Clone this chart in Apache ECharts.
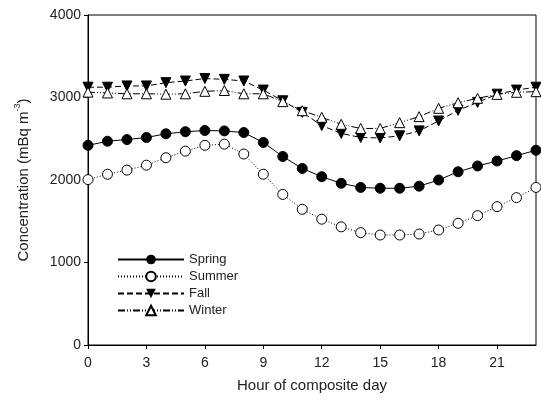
<!DOCTYPE html>
<html lang="en">
  <head>
    <meta charset="UTF-8" />
    <title>Concentration by hour</title>
    <script src="https://cdn.jsdelivr.net/npm/echarts@6.0.0/dist/echarts.min.js"></script>
    <style>
      html, body { margin: 0; padding: 0; background: #fff; }
      #main { width: 541px; height: 416px; }
    </style>
  </head>
  <body>
    <div id="main"></div>
    <script>
      var hours = [0, 1, 2, 3, 4, 5, 6, 7, 8, 9, 10, 11, 12, 13, 14, 15, 16, 17, 18, 19, 20, 21, 22, 23];
      var spring = [2420, 2470, 2490, 2515, 2560, 2585, 2600, 2595, 2575, 2455, 2285, 2140, 2040, 1960, 1910, 1900, 1900, 1925, 2000, 2100, 2170, 2230, 2295, 2360];
      var summer = [2005, 2070, 2120, 2180, 2270, 2350, 2420, 2435, 2315, 2070, 1825, 1645, 1525, 1432, 1362, 1333, 1333, 1345, 1394, 1475, 1568, 1677, 1786, 1910];
      var fall = [3125, 3125, 3140, 3140, 3180, 3200, 3230, 3220, 3200, 3090, 2960, 2820, 2660, 2565, 2515, 2510, 2535, 2595, 2715, 2845, 2940, 3040, 3090, 3125];
      var winter = [3065, 3055, 3045, 3045, 3040, 3045, 3075, 3085, 3045, 3045, 2950, 2840, 2760, 2675, 2625, 2625, 2695, 2768, 2869, 2937, 2990, 3038, 3063, 3071];

      function pairs(vals) {
        return hours.map(function (h, i) { return [h, vals[i]]; });
      }

      var font = "Liberation Sans, Arial, sans-serif";
      var myChart = echarts.init(document.getElementById("main"));

      var option = {
        animation: false,
        grid: {
          left: 88, right: 5, top: 15, bottom: 71,
          show: true, borderColor: "#000", borderWidth: 1
        },
        legend: {
          left: 112, top: 248, orient: "vertical",
          itemWidth: 66, itemHeight: 12, itemGap: 4,
          textStyle: { fontFamily: font, fontSize: 13, color: "#222" },
          data: ["Spring", "Summer", "Fall", "Winter"]
        },
        xAxis: {
          type: "value", min: 0, max: 23, interval: 3,
          name: "Hour of composite day", nameLocation: "middle", nameGap: 33,
          nameTextStyle: { fontFamily: font, fontSize: 15, color: "#222" },
          axisLine: { lineStyle: { color: "#000" } },
          axisTick: { length: 4, lineStyle: { color: "#000" } },
          axisLabel: { fontFamily: font, fontSize: 14, color: "#222", margin: 11, showMaxLabel: false },
          splitLine: { show: false }
        },
        yAxis: {
          type: "value", min: 0, max: 4000, interval: 1000,
          name: "{a|Concentration (mBq m}{s|-3}{a|)}", nameLocation: "middle", nameGap: 54,
          nameTextStyle: {
            rich: {
              a: { fontFamily: font, fontSize: 15, color: "#222" },
              s: { fontFamily: font, fontSize: 9, color: "#222", verticalAlign: "top", padding: [0, 0, 12, 0] }
            }
          },
          axisLine: { show: true, lineStyle: { color: "#000" } },
          axisTick: { show: true, length: 4, lineStyle: { color: "#000" } },
          axisLabel: {
            fontFamily: font, fontSize: 14, color: "#222", margin: 7,
            formatter: function (v) { return String(v); }
          },
          splitLine: { show: false }
        },
        series: [
          {
            name: "Spring", type: "line", data: pairs(spring),
            symbol: "circle", symbolSize: 10,
            itemStyle: { color: "#000", borderColor: "#000" },
            lineStyle: { color: "#000", width: 1, type: "solid" }
          },
          {
            name: "Summer", type: "line", data: pairs(summer),
            symbol: "circle", symbolSize: 10,
            itemStyle: { color: "#fff", borderColor: "#000", borderWidth: 1 },
            lineStyle: { color: "#000", width: 1, type: [1, 2] }
          },
          {
            name: "Fall", type: "line", data: pairs(fall),
            symbol: "triangle", symbolRotate: 180, symbolSize: 10,
            itemStyle: { color: "#000", borderColor: "#000" },
            lineStyle: { color: "#000", width: 1, type: [6, 3] }
          },
          {
            name: "Winter", type: "line", data: pairs(winter),
            symbol: "triangle", symbolSize: 10,
            itemStyle: { color: "#fff", borderColor: "#000", borderWidth: 1 },
            lineStyle: { color: "#000", width: 1, type: [7, 2, 1, 2, 1, 2] }
          }
        ]
      };

      myChart.setOption(option);
    </script>
  </body>
</html>
